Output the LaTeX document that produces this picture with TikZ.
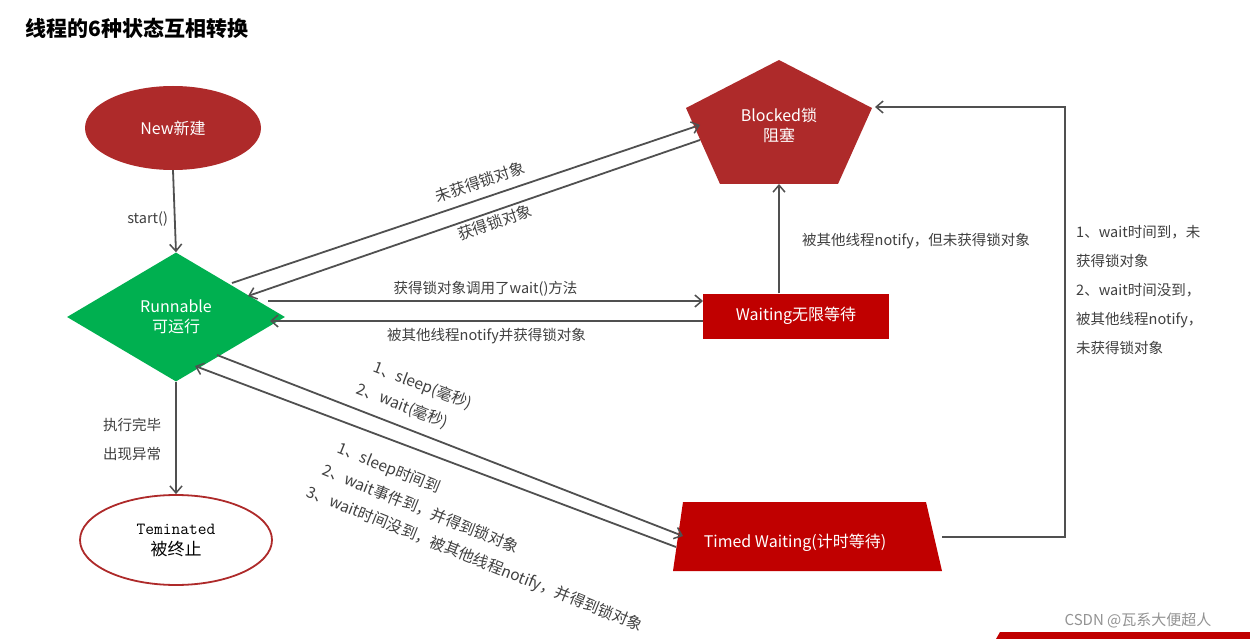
\documentclass[tikz,border=0pt]{standalone}
\usepackage{fontspec}
\setmainfont{Noto Sans CJK SC}
\usetikzlibrary{arrows.meta,shapes.geometric}
\definecolor{dred}{HTML}{AE2A2A}
\definecolor{bred}{HTML}{C00000}
\definecolor{gr}{HTML}{00B050}
\definecolor{ln}{HTML}{505050}
\definecolor{lbl}{HTML}{404040}
\tikzset{
 conn/.style={draw=ln,line width=1.8pt,-{Straight Barb[length=7pt,width=12pt,line width=1.5pt]}},
 lab/.style={text=lbl,font=\fontsize{14.5}{17}\selectfont,inner sep=0pt},
 rlab/.style={text=lbl,font=\fontsize{15.5}{18}\selectfont,inner sep=0pt},
 wtxt/.style={text=white,font=\fontsize{16}{20}\selectfont,align=center},
}
\begin{document}
\begin{tikzpicture}[x=1pt,y=-1pt]
\useasboundingbox[fill=white] (0,0) rectangle (1250,639);
\node[anchor=west,font=\bfseries\fontsize{21}{24}\selectfont,text=black] (title) at (22,28) {线程的6种状态互相转换};
% nodes
\node[ellipse,fill=dred,minimum width=176pt,minimum height=84pt,wtxt] (new) at (173,128) {New新建};
\node[diamond,fill=gr,minimum width=218pt,minimum height=129pt,aspect=1.7,inner sep=0pt,wtxt] (run) at (176,317) {Runnable\\可运行};
\node[ellipse,draw=dred,line width=1.8pt,fill=white,minimum width=192pt,minimum height=90pt,align=center,font=\fontsize{17}{21}\selectfont] (term) at (176,540) {\texttt{\fontsize{17}{21}\selectfont Teminated}\\被终止};
\filldraw[fill=dred,draw=none] (779,60) -- (872,108) -- (838,184) -- (720,184) -- (686,108) -- cycle;
\node[wtxt] (blk) at (779,125) {Blocked锁\\阻塞};
\coordinate (blkB) at (779,184);
\node[rectangle,fill=bred,minimum width=186pt,minimum height=45pt,wtxt] (wait) at (796,316) {Waiting无限等待};
\filldraw[fill=bred,draw=none] (683,502) -- (926,502) -- (942,571) -- (673,571) -- cycle;
\node[wtxt] (tw) at (795,543) {Timed Waiting(计时等待)};
% connectors
\draw[conn] (new.south) -- node[lab,left=6pt,pos=0.6]{start()} (run.north);
\draw[conn] (run.south) -- (term.north);
\node[lab,align=center] (lbl1) at (132,439) {执行完毕\\[12pt]出现异常};
\coordinate (a1) at (232,283); \coordinate (b1) at (700,125);
\draw[conn] (a1) -- (b1);
\node[rlab,rotate=18.7] (l1) at (480,182) {未获得锁对象};
\coordinate (a2) at (700,140); \coordinate (b2) at (248,296);
\draw[conn] (a2) -- (b2);
\node[rlab,rotate=18.7] (l2) at (495,222) {获得锁对象};
\coordinate (a3) at (268,301); \coordinate (b3) at (703,301);
\draw[conn] (a3) -- node[lab,above=4pt]{获得锁对象调用了wait()方法} (b3);
\coordinate (a4) at (703,321); \coordinate (b4) at (270,321);
\draw[conn] (a4) -- node[lab,below=6pt]{被其他线程notify并获得锁对象} (b4);
\draw[conn] (wait.north -| blkB) -- (blkB);
\node[lab] (l5) at (916,241) {被其他线程notify，但未获得锁对象};
\coordinate (a6) at (217,355); \coordinate (b6) at (683,536);
\draw[conn] (a6) -- (b6);
\node[rlab,rotate=-21,align=left] (l6) at (418,398) {1、sleep(毫秒)\\[8pt]\hspace*{-8pt}2、wait(毫秒)};
\coordinate (a7) at (676,547); \coordinate (b7) at (195,366);
\draw[conn] (a7) -- (b7);
\node[rlab,rotate=-22,anchor=north west,align=left] (l7) at (330,436) {\hspace*{12pt}1、sleep时间到\\[8pt]\hspace*{6pt}2、wait事件到，并得到锁对象\\[8pt]3、wait时间没到，被其他线程notify，并得到锁对象};
\coordinate (c1) at (942,537); \coordinate (c2) at (1065,537); \coordinate (c3) at (1065,107); \coordinate (c4) at (875,107);
\draw[conn] (c1) -- (c2) -- (c3) -- (c4);
\node[lab,anchor=north west,align=left] (l8) at (1076,225) {1、wait时间到，未\\[12pt]获得锁对象\\[12pt]2、wait时间没到，\\[12pt]被其他线程notify，\\[12pt]未获得锁对象};
% watermark
\fill[bred] (1000,632) -- (1250,632) -- (1250,639) -- (996,639) -- cycle;
\node[text=gray!85,font=\fontsize{15}{17}\selectfont] (wm) at (1138,620) {CSDN @瓦系大便超人};
\end{tikzpicture}
\end{document}
